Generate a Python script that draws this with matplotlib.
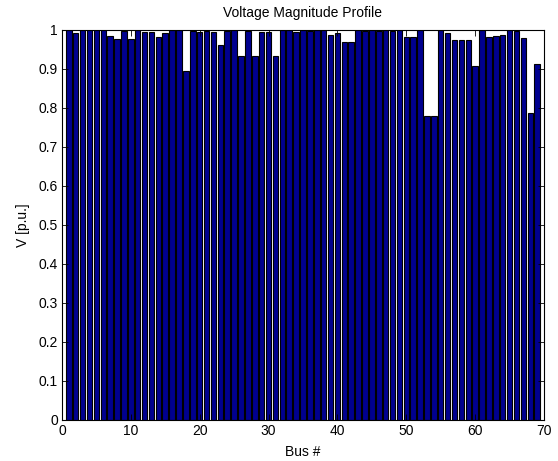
import numpy as np
import matplotlib.pyplot as plt

plt.rcParams['font.family'] = ['Liberation Sans', 'DejaVu Sans']
plt.rcParams['font.size'] = 10

# per-unit bus voltages, buses 1..69
bus = np.arange(1, 70)
v_pu = [1.000, 0.991, 1.000, 1.000, 1.000, 1.000, 0.983, 0.976, 0.995, 0.976,
        1.000, 0.993, 0.993, 0.981, 0.991, 0.999, 0.999, 0.893, 0.995, 0.994,
        0.995, 0.993, 0.960, 0.995, 1.000, 0.933, 0.995, 0.933, 0.993, 0.993,
        0.933, 1.000, 1.000, 0.993, 1.000, 0.995, 1.000, 1.000, 0.986, 0.990,
        0.967, 0.967, 1.000, 0.995, 0.998, 0.995, 0.998, 0.995, 1.000, 0.982,
        0.980, 1.000, 0.779, 0.779, 1.000, 0.991, 0.972, 0.972, 0.972, 0.906,
        1.000, 0.981, 0.984, 0.987, 1.000, 0.995, 0.978, 0.785, 0.911]

fig = plt.figure(figsize=(5.58, 4.61), dpi=100)
ax = fig.add_axes([0.111, 0.089, 0.864, 0.847])

ax.bar(bus, v_pu, width=0.8, color='#00008f', edgecolor='black', linewidth=0.8)

ax.set_xlim(0, 70)
ax.set_ylim(0, 1)
ax.set_xticks(np.arange(0, 71, 10))
ax.set_yticks(np.arange(0, 1.01, 0.1))
ax.set_yticklabels(['0', '0.1', '0.2', '0.3', '0.4', '0.5', '0.6', '0.7', '0.8', '0.9', '1'])
ax.tick_params(direction='in', top=True, right=True, length=4, width=0.6, pad=3)
for s in ax.spines.values():
    s.set_linewidth(0.8)

ax.set_xlabel('Bus #', labelpad=5)
ax.set_ylabel('V [p.u.]', labelpad=6)
ax.set_title('Voltage Magnitude Profile', fontsize=10, pad=9)

fig.savefig('out.png', dpi=100)
